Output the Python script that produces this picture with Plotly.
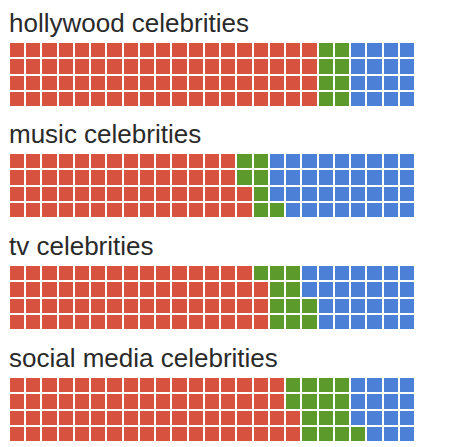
import plotly.graph_objects as go

categories = ["hollywood celebrities", "music celebrities", "tv celebrities", "social media celebrities"]
red_counts = [76, 58, 63, 70]
green_counts = [8, 7, 11, 15]
blue_counts = [16, 35, 26, 15]
colors = ["#d8533f", "#5c9a2b", "#4b80d6"]

N_COLS = 25
N_ROWS = 4
# page body has an 8px default margin; figure is placed at (8, 8)
OFF = 8
W, H = 464 - OFF, 447 - OFF
grid_tops = [42 - OFF, 153 - OFF, 265 - OFF, 377 - OFF]
grid_h = 65
x_left, x_right = 9 - OFF, 415 - OFF

fig = go.Figure()
colorscale = [[0, colors[0]], [0.3333, colors[0]], [0.3334, colors[1]], [0.6666, colors[1]], [0.6667, colors[2]], [1, colors[2]]]

for i, cat in enumerate(categories):
    seq = [0] * red_counts[i] + [1] * green_counts[i] + [2] * blue_counts[i]
    z = [[None] * N_COLS for _ in range(N_ROWS)]
    for k, v in enumerate(seq):
        col = k // N_ROWS
        row = k % N_ROWS  # filled bottom to top
        z[row][col] = v
    ax = "" if i == 0 else str(i + 1)
    fig.add_trace(go.Heatmap(
        z=z, x=list(range(N_COLS)), y=list(range(N_ROWS)),
        colorscale=colorscale, zmin=0, zmax=2, showscale=False,
        xgap=2, ygap=2, hoverinfo="skip",
        xaxis="x" + ax, yaxis="y" + ax,
    ))
    top = 1 - grid_tops[i] / H
    bot = max(0, 1 - (grid_tops[i] + grid_h) / H)
    fig.update_layout(**{
        "xaxis" + ax: dict(domain=[x_left / W, x_right / W], range=[-0.5, N_COLS - 0.5],
                           visible=False, fixedrange=True, anchor="y" + ax),
        "yaxis" + ax: dict(domain=[bot, top], range=[-0.5, N_ROWS - 0.5],
                           visible=False, fixedrange=True, anchor="x" + ax),
    })
    fig.add_annotation(
        text=cat, xref="paper", yref="paper", x=1 / W, y=1 - (grid_tops[i] - 19) / H,
        xanchor="left", yanchor="middle", showarrow=False, borderpad=0, borderwidth=0,
        font=dict(family="Liberation Sans, Arial, sans-serif", size=26, color="#2a2a2a"),
    )

fig.update_layout(
    width=W, height=H, margin=dict(l=0, r=0, t=0, b=0),
    paper_bgcolor="white", plot_bgcolor="white", showlegend=False,
)
fig.write_html("out.html")
